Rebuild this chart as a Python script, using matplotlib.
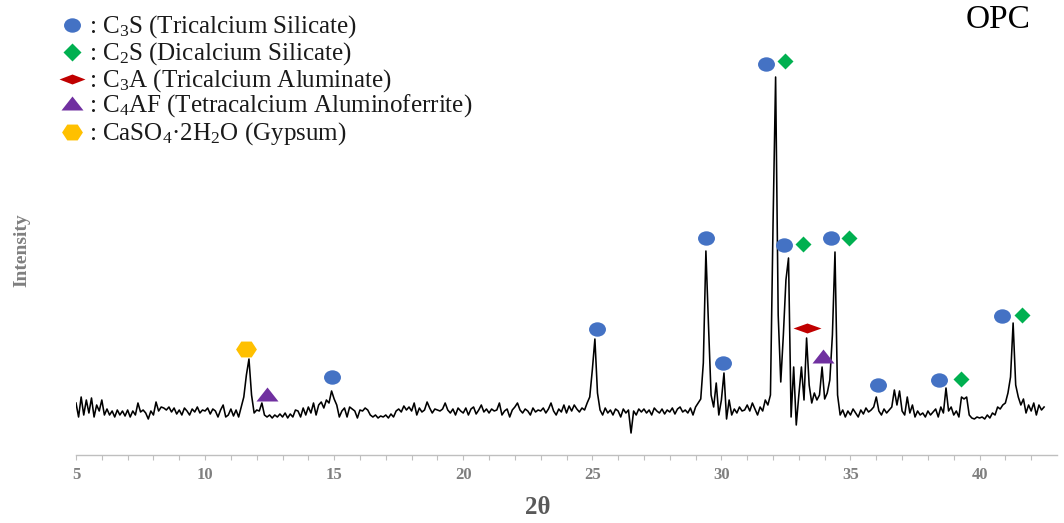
import numpy as np
import matplotlib
matplotlib.use("Agg")
import matplotlib.pyplot as plt
from matplotlib.markers import MarkerStyle
from matplotlib.transforms import Affine2D
from matplotlib.lines import Line2D

plt.rcParams['font.family'] = ['Liberation Serif', 'DejaVu Serif']
plt.rcParams['mathtext.fontset'] = 'custom'
plt.rcParams['mathtext.rm'] = 'Liberation Serif'
plt.rcParams['mathtext.it'] = 'Liberation Serif:italic'
plt.rcParams['mathtext.bf'] = 'Liberation Serif:bold'

# ---------------- data ----------------
two_theta_start = 5.0
two_theta_step = 0.1
intensity = [
    52, 38, 58, 40, 55, 42, 57, 38, 50, 44,      # 5
    55, 40, 46, 40, 44, 38, 45, 40, 44, 39,      # 6
    45, 38, 44, 40, 52, 43, 45, 42, 36, 44,      # 7
    40, 53, 44, 48, 47, 45, 48, 43, 47, 41,      # 8
    45, 40, 47, 44, 40, 46, 43, 48, 42, 45,      # 9
    44, 47, 41, 46, 44, 38, 45, 50, 38, 40,      # 10
    46, 39, 45, 38, 48, 58, 80, 96, 60, 42,      # 11
    45, 44, 52, 40, 38, 40, 37, 40, 38, 41,      # 12
    38, 42, 37, 41, 38, 45, 44, 38, 47, 40,      # 13
    48, 42, 52, 40, 50, 53, 47, 55, 52, 64,      # 14
    56, 50, 38, 44, 47, 38, 48, 46, 44, 37,      # 15
    45, 44, 47, 45, 40, 38, 40, 37, 39, 38,      # 16
    40, 37, 41, 38, 44, 46, 43, 49, 45, 48,      # 17
    44, 52, 40, 47, 43, 45, 53, 47, 42, 46,      # 18
    45, 44, 46, 52, 45, 42, 46, 40, 47, 44,      # 19
    42, 47, 40, 46, 48, 41, 45, 50, 43, 46,      # 20
    42, 46, 44, 45, 52, 40, 44, 46, 38, 45,      # 21
    48, 52, 45, 42, 46, 44, 40, 47, 43, 45,      # 22
    44, 47, 42, 46, 52, 44, 40, 46, 43, 50,      # 23
    42, 49, 44, 50, 46, 43, 47, 45, 52, 58,      # 24
    85, 116, 62, 45, 40, 47, 42, 45, 40, 46,     # 25
    44, 38, 46, 42, 45, 22, 44, 40, 46, 43,      # 26
    46, 42, 45, 40, 47, 44, 42, 46, 41, 45,      # 27
    43, 47, 41, 46, 48, 43, 45, 42, 47, 40,      # 28
    48, 52, 56, 92, 204, 130, 60, 48, 72, 40,    # 29
    55, 82, 36, 55, 40, 46, 42, 48, 44, 45,      # 30
    50, 44, 52, 46, 40, 48, 44, 55, 50, 60,      # 31
    230, 378, 140, 73, 120, 175, 197, 38, 88, 30,  # 32
    60, 88, 55, 117, 70, 52, 62, 55, 60, 88,     # 33
    56, 62, 75, 120, 203, 60, 40, 45, 38, 44,    # 34
    40, 46, 42, 38, 45, 41, 47, 43, 45, 48,      # 35
    58, 44, 40, 46, 42, 45, 48, 65, 50, 64,      # 36
    44, 40, 58, 42, 50, 38, 44, 40, 42, 38,      # 37
    44, 40, 43, 46, 38, 48, 42, 67, 44, 48,      # 38
    40, 44, 38, 58, 56, 58, 40, 37, 36, 38,      # 39
    37, 38, 36, 40, 37, 42, 40, 48, 46, 50,      # 40
    52, 62, 78, 132, 70, 58, 50, 56, 42, 50,     # 41
    44, 52, 40, 50, 45, 48,                      # 42
]
two_theta = two_theta_start + two_theta_step * np.arange(len(intensity))

# phase markers (2theta, label height)
c3s_x = [14.9, 25.19, 29.41, 30.05, 31.73, 32.43, 34.25, 36.06, 38.42, 40.86]
c3s_y = [78, 126, 217, 92, 391, 210, 217, 70, 75, 139]
c2s_x = [32.47, 33.16, 34.94, 39.27, 41.63]
c2s_y = [394, 211, 217, 76, 140]
c3a_x = [33.32]
c3a_y = [127]
c4af_x = [12.38, 33.94]
c4af_y = [61, 99]
gyp_x = [11.58]
gyp_y = [106]

legend_labels = [
    r": C$_3$S (Tricalcium Silicate)",
    r": C$_2$S (Dicalcium Silicate)",
    r": C$_3$A (Tricalcium Aluminate)",
    r": C$_4$AF (Tetracalcium Aluminoferrite)",
    r": CaSO$_4$·2H$_2$O (Gypsum)",
]
xticks = [5, 10, 15, 20, 25, 30, 35, 40]

# ---------------- style ----------------
blue = '#4472C4'
green = '#00B050'
red = '#C00000'
purple = '#7030A0'
gold = '#FFC000'

m_circle = MarkerStyle('o', transform=Affine2D().scale(1.0, 0.85))
m_diamond = MarkerStyle('D')
m_flat = MarkerStyle('D', transform=Affine2D().scale(1.0, 0.36))
m_tri = MarkerStyle('^', transform=Affine2D().scale(1.0, 0.62))
m_hex = MarkerStyle('H', transform=Affine2D().scale(1.0, 0.88))

W, H = 1064, 523
fig = plt.figure(figsize=(W / 100, H / 100), dpi=100)
ax = fig.add_axes([76 / W, (H - 455) / H, (1057 - 76) / W, 455 / H])

ax.plot(two_theta, intensity, color='black', lw=1.15)

ms_c = 12.2
ax.plot(c3s_x, c3s_y, ls='none', marker=m_circle, ms=ms_c, color=blue, mec='none')
ax.plot(c2s_x, c2s_y, ls='none', marker=m_diamond, ms=8.6, color=green, mec='none')
ax.plot(c3a_x, c3a_y, ls='none', marker=m_flat, ms=14.3, color=red, mec='none')
ax.plot(c4af_x, c4af_y, ls='none', marker=m_tri, ms=15.5, color=purple, mec='none')
ax.plot(gyp_x, gyp_y, ls='none', marker=m_hex, ms=15, color=gold, mec='none')

ax.set_xlim(5, 43)
ax.set_ylim(0, 455)
for s in ['left', 'right', 'top']:
    ax.spines[s].set_visible(False)
ax.spines['bottom'].set_color('#BFBFBF')
ax.spines['bottom'].set_linewidth(1.0)
ax.set_yticks([])
ax.set_xticks(xticks)
ax.set_xticks(np.arange(5, 43, 1), minor=True)
ax.tick_params(axis='x', which='both', direction='out', length=3.5, width=0.8,
               color='#BFBFBF', pad=5)
for lab in ax.get_xticklabels():
    lab.set_fontsize(12)
    lab.set_fontweight('bold')
    lab.set_color('#7F7F7F')
ax.patch.set_alpha(0)

# legend (manual, figure coordinates)
leg_marker_y = [25, 52, 79, 103, 132]
leg_text_y = [33, 60, 87, 112, 140]
leg_markers = [(m_circle, ms_c, blue), (m_diamond, 9, green), (m_flat, 13, red),
               (m_tri, 16, purple), (m_hex, 15, gold)]
for (mk, ms, col), my, ty, lab in zip(leg_markers, leg_marker_y, leg_text_y, legend_labels):
    fig.add_artist(Line2D([72 / W], [1 - my / H], transform=fig.transFigure,
                          marker=mk, ms=ms, color=col, mec='none', ls='none'))
    fig.text(89 / W, 1 - ty / H, lab, fontsize=18, va='baseline', ha='left', color='#1a1a1a')

fig.text(998 / W, 1 - 20 / H, 'OPC', fontsize=24, ha='center', va='center', color='black')
fig.text(538 / W, 1 - 508 / H, '2θ', fontsize=18, fontweight='bold', ha='center',
         va='center', color='#595959')
fig.text(22 / W, 1 - 250 / H, 'Intensity', fontsize=14, fontweight='bold', rotation=90,
         ha='center', va='center', color='#7F7F7F')

fig.savefig('out.png', dpi=100)
